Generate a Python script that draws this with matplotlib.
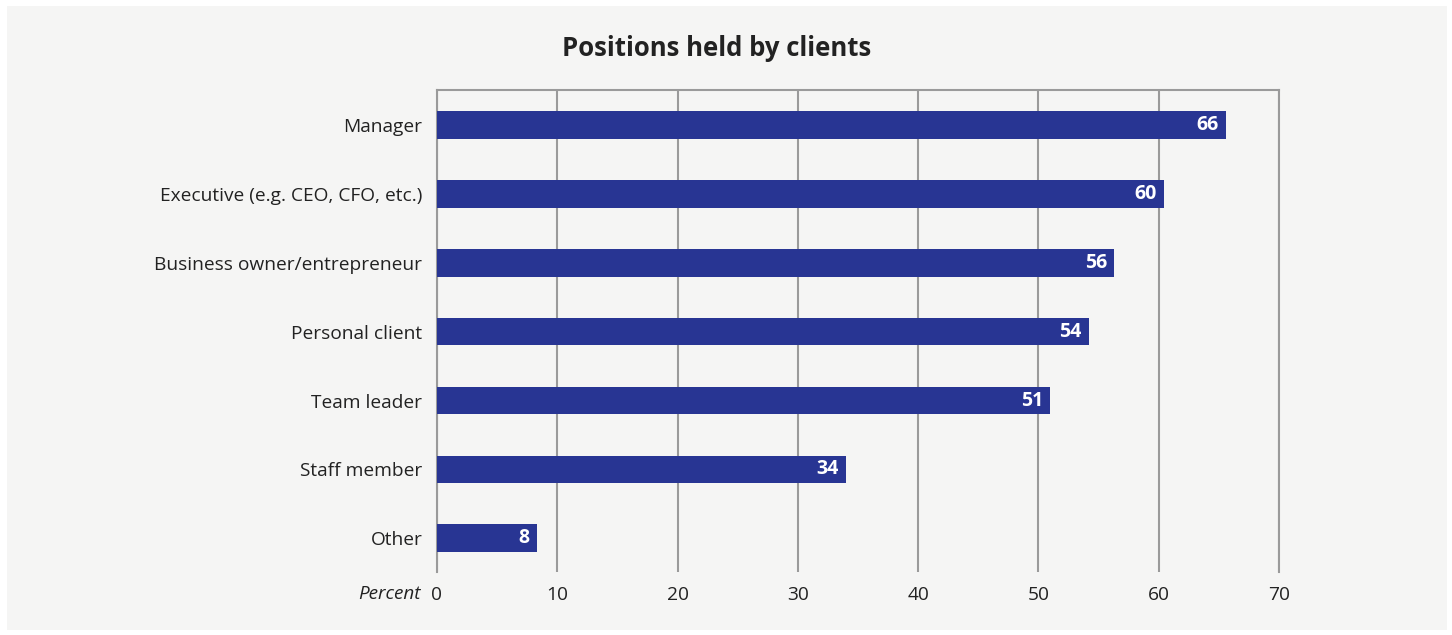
import numpy as np
import matplotlib.pyplot as plt
from matplotlib.patches import Rectangle

plt.rcParams['font.family'] = ['Open Sans', 'DejaVu Sans']

categories = ["Manager", "Executive (e.g. CEO, CFO, etc.)", "Business owner/entrepreneur",
              "Personal client", "Team leader", "Staff member", "Other"]
values = [65.6, 60.4, 56.3, 54.2, 51.0, 34.0, 8.3]
labels = ["66", "60", "56", "54", "51", "34", "8"]
xticks = [0, 10, 20, 30, 40, 50, 60, 70]

bg = "#f5f5f4"
bar_color = "#283593"
grid_color = "#9a9a9a"

fig = plt.figure(figsize=(14.52, 6.35), dpi=100, facecolor="white")
# grey panel with thin white margin
fig.patches.append(Rectangle((7 / 1452, 1 - 630 / 635), 1440 / 1452, 624 / 635,
                             transform=fig.transFigure, facecolor=bg, edgecolor="none", zorder=-5))

ax = fig.add_axes([437 / 1452, 1 - 572 / 635, 842 / 1452, 482 / 635])
ax.set_zorder(2)
ax.set_facecolor(bg)

y = np.arange(len(categories))
ax.barh(y, values, height=0.4, color=bar_color, zorder=3)

for yi, v, lab in zip(y, values, labels):
    ax.text(v - 0.6, yi, lab, ha="right", va="center", color="white",
            fontsize=14, fontweight="bold", zorder=4)

ax.set_xlim(0, 70)
ax.set_ylim(6.49, -0.51)
ax.set_xticks(xticks)
ax.set_xticklabels([str(t) for t in xticks], fontsize=13.8, color="#222222")
ax.set_yticks(y)
ax.set_yticklabels(categories, fontsize=13.8, color="#222222")
ax.tick_params(axis="both", length=0)
ax.tick_params(axis="x", pad=10)
ax.tick_params(axis="y", pad=10.5)

ax.grid(axis="x", color=grid_color, linewidth=1.5, zorder=1)
for s in ["left", "right", "top"]:
    ax.spines[s].set_color(grid_color)
    ax.spines[s].set_linewidth(1.5)
ax.spines["bottom"].set_visible(False)

fig.text(421 / 1452, 1 - 594 / 635, "Percent", ha="right", va="center",
         fontsize=13.6, style="italic", color="#222222")
fig.text(717 / 1452, 1 - 48 / 635, "Positions held by clients", ha="center", va="center",
         fontsize=18.5, fontweight="bold", color="#222222")

fig.savefig("out.png", dpi=100, facecolor="white")
